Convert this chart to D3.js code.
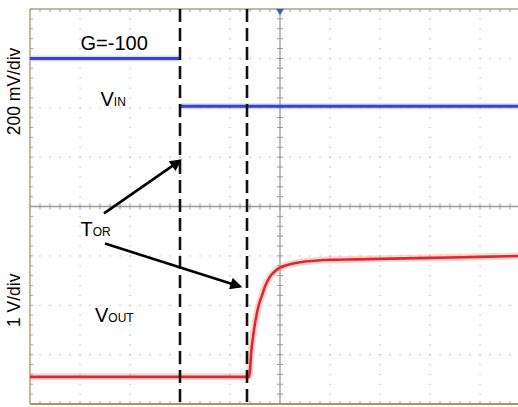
<!DOCTYPE html>
<html><head><meta charset="utf-8">
<script src="https://cdn.jsdelivr.net/npm/d3@7"></script>
<style>body{margin:0;background:#fff}svg{display:block}text{font-family:"Liberation Sans",Arial,sans-serif}</style>
</head><body>
<svg id="c" width="518" height="407"></svg>
<script>
// time in divisions (center = 0), amplitude in divisions (center = 0)
const vinTime = [-5, -2.0, -2.0, -2.0, 4.8];
const vinVal  = [3.0, 3.0, null, 2.03, 2.03];
const voutTime = [-5, -0.62, -0.57, -0.52, -0.47, -0.42, -0.36, -0.3, -0.2, -0.1, 0, 0.2, 0.4, 0.7, 1.0, 1.5, 2.0, 3.0, 4.0, 4.8];
const voutVal  = [-3.45, -3.45, -2.9, -2.5, -2.2, -1.98, -1.8, -1.62, -1.42, -1.31, -1.24, -1.17, -1.13, -1.1, -1.08, -1.07, -1.06, -1.04, -1.02, -1.0];
const cursorTimes = [-2.0, -0.66];
const xDivs = [-5,-4,-3,-2,-1,0,1,2,3,4,5];
const yDivs = [-4,-3,-2,-1,0,1,2,3,4];
const yLabels = ["200 mV/div", "1 V/div"];

const svg = d3.select("#c");
const x = d3.scaleLinear().domain([-5, 5]).range([30, 530]);
const y = d3.scaleLinear().domain([-4, 4]).range([404, 9]);

// dotted grid
const g = svg.append("g");
const minorX = d3.range(-25, 26).map(d => d / 5);
const minorY = d3.range(-20, 21).map(d => d / 5);
xDivs.filter(d => d !== 0 && d !== -5).forEach(t => {
  g.selectAll(null).data(minorY).enter().append("rect")
    .attr("x", x(t) - 0.5).attr("y", d => y(d) - 0.5).attr("width", 1.2).attr("height", 1.2).attr("fill", "#b5b5b5");
});
yDivs.filter(d => d !== 0 && Math.abs(d) !== 4).forEach(v => {
  g.selectAll(null).data(minorX).enter().append("rect")
    .attr("x", d => x(d) - 0.5).attr("y", y(v) - 0.5).attr("width", 1.2).attr("height", 1.2).attr("fill", "#b5b5b5");
});

// center axes with ticks
g.append("line").attr("x1", x(-5)).attr("x2", x(5)).attr("y1", y(0)).attr("y2", y(0)).attr("stroke", "#9a9a9a").attr("stroke-width", 1.3);
g.append("line").attr("x1", x(0)).attr("x2", x(0)).attr("y1", y(-4)).attr("y2", y(4)).attr("stroke", "#9a9a9a").attr("stroke-width", 1.3);
g.selectAll(null).data(minorX).enter().append("line")
  .attr("x1", d => x(d)).attr("x2", d => x(d)).attr("y1", y(0) - 3).attr("y2", y(0) + 3).attr("stroke", "#9a9a9a");
g.selectAll(null).data(minorY).enter().append("line")
  .attr("x1", x(0) - 3).attr("x2", x(0) + 3).attr("y1", d => y(d)).attr("y2", d => y(d)).attr("stroke", "#9a9a9a");
// border ticks
g.selectAll(null).data(minorX).enter().append("line")
  .attr("x1", d => x(d)).attr("x2", d => x(d)).attr("y1", y(4)).attr("y2", y(4) + 3).attr("stroke", "#a0a0a0");
g.selectAll(null).data(minorX).enter().append("line")
  .attr("x1", d => x(d)).attr("x2", d => x(d)).attr("y1", y(-4)).attr("y2", y(-4) - 3).attr("stroke", "#a0a0a0");
g.selectAll(null).data(minorY).enter().append("line")
  .attr("x1", x(-5)).attr("x2", x(-5) + 3).attr("y1", d => y(d)).attr("y2", d => y(d)).attr("stroke", "#a0a0a0");

// frame
g.append("line").attr("x1", x(-5)).attr("x2", x(5)).attr("y1", y(4)).attr("y2", y(4)).attr("stroke", "#a8a48c").attr("stroke-width", 1.5);
g.append("line").attr("x1", x(-5)).attr("x2", x(5)).attr("y1", y(-4)).attr("y2", y(-4)).attr("stroke", "#a89664").attr("stroke-width", 2);
g.append("line").attr("x1", x(-5)).attr("x2", x(-5)).attr("y1", y(4)).attr("y2", y(-4)).attr("stroke", "#b0a47c").attr("stroke-width", 1.5);

// trigger marker
svg.append("path").attr("d", `M${x(0)-4},${y(4)} L${x(0)+4},${y(4)} L${x(0)},${y(4)+6} Z`).attr("fill", "#2b63d4");

// traces
const line = d3.line().defined(d => d[1] !== null).x(d => x(d[0])).y(d => y(d[1]));
const vin = d3.zip(vinTime, vinVal);
const vout = d3.zip(voutTime, voutVal);
svg.append("path").datum(vin).attr("d", line).attr("fill", "none").attr("stroke", "#8c96ff").attr("stroke-width", 6).attr("stroke-opacity", 0.35);
svg.append("path").datum(vin).attr("d", line).attr("fill", "none").attr("stroke", "#3343dc").attr("stroke-width", 3);
const curve = d3.line().curve(d3.curveMonotoneX).x(d => x(d[0])).y(d => y(d[1]));
svg.append("path").datum(vout).attr("d", curve).attr("fill", "none").attr("stroke", "#f08a8a").attr("stroke-width", 7).attr("stroke-opacity", 0.35);
svg.append("path").datum(vout).attr("d", curve).attr("fill", "none").attr("stroke", "#e0282c").attr("stroke-width", 2.6);

// cursors
svg.selectAll(null).data(cursorTimes).enter().append("line")
  .attr("x1", d => x(d)).attr("x2", d => x(d)).attr("y1", y(4)).attr("y2", y(-4) + 3)
  .attr("stroke", "#111").attr("stroke-width", 2.6).attr("stroke-dasharray", "13,6");

// arrows
svg.append("defs").append("marker").attr("id", "ah").attr("viewBox", "0 0 10 10")
  .attr("refX", 8).attr("refY", 5).attr("markerWidth", 14).attr("markerHeight", 12).attr("orient", "auto")
  .attr("markerUnits", "userSpaceOnUse")
  .append("path").attr("d", "M0,0 L10,5 L0,10 Z").attr("fill", "#000");
const arrows = [[-3.52, -0.14, -2.0, 0.93], [-3.5, -0.75, -0.8, -1.62]];
svg.selectAll(null).data(arrows).enter().append("line")
  .attr("x1", d => x(d[0])).attr("y1", d => y(d[1])).attr("x2", d => x(d[2])).attr("y2", d => y(d[3]))
  .attr("stroke", "#000").attr("stroke-width", 2.6).attr("marker-end", "url(#ah)");

// labels
function lab(t, v, main, sub) {
  const tx = svg.append("text").attr("x", x(t)).attr("y", y(v)).attr("font-size", 20).attr("fill", "#000");
  tx.append("tspan").text(main);
  if (sub) tx.append("tspan").attr("font-size", 12).text(sub);
}
lab(-3.99, 3.16, "G=-100");
lab(-3.59, 2.04, "V", "IN");
lab(-3.99, -0.59, "T", "OR");
lab(-3.7, -2.33, "V", "OUT");

svg.append("text").attr("transform", `translate(19.5,${y(2.33)}) rotate(-90)`).attr("text-anchor", "middle")
  .attr("font-size", 17.5).text(yLabels[0]);
svg.append("text").attr("transform", `translate(19.5,${y(-1.9)}) rotate(-90)`).attr("text-anchor", "middle")
  .attr("font-size", 17.5).text(yLabels[1]);
</script>
</body></html>
